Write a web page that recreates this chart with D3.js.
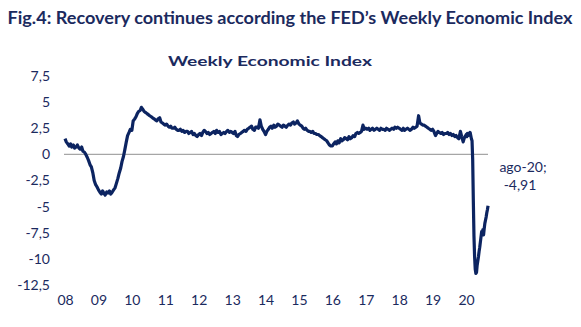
<!DOCTYPE html>
<html>
<head>
<meta charset="utf-8">
<script src="https://cdn.jsdelivr.net/npm/d3@7"></script>
<style>
    body { margin: 0; background: #ffffff; }
    svg text { font-family: "Lato", "Open Sans", sans-serif; }
</style>
</head>
<body>
<svg></svg>
<script>
let width = 581;
let height = 327;
let navy = "#1b2a5e";
let lineColor = "#0c2461";

// semi-monthly values (1st and 15th) 2008-2019, 24 per year
let wei2008 = [1.5, 1.2, 1.0, 0.8, 1.0, 0.7, 0.9, 0.6, 0.7, 0.9, 0.6, 0.5,
               0.7, 0.3, 0.2, 0.0, -0.3, -0.6, -1.0, -1.2, -1.8, -2.5, -2.9, -3.1];
let wei2009 = [-3.4, -3.6, -3.8, -3.5, -3.7, -3.9, -3.6, -3.7, -3.5, -3.8, -3.6, -3.4,
               -3.2, -2.8, -2.3, -1.8, -1.3, -0.7, -0.2, 0.4, 1.2, 1.8, 2.1, 2.4];
let wei2010 = [2.3, 3.2, 3.4, 3.6, 3.9, 4.1, 4.2, 4.5, 4.3, 4.1, 4.0, 3.9,
               3.8, 3.7, 3.6, 3.5, 3.4, 3.3, 3.2, 3.4, 3.5, 3.1, 3.0, 2.9];
let wei2011 = [2.8, 2.9, 2.7, 2.6, 2.7, 2.5, 2.5, 2.6, 2.4, 2.3, 2.3, 2.4,
               2.2, 2.3, 2.1, 2.2, 2.2, 2.0, 2.1, 2.2, 1.9, 2.0, 1.8, 1.7];
let wei2012 = [1.9, 2.0, 1.8, 2.1, 2.3, 2.2, 2.0, 2.1, 1.9, 2.0, 2.1, 2.2,
               2.0, 2.3, 2.1, 2.2, 1.9, 2.0, 2.1, 2.0, 2.2, 2.3, 2.1, 2.2];
let wei2013 = [2.1, 2.0, 2.2, 1.8, 1.7, 1.9, 2.0, 2.1, 2.2, 2.3, 2.2, 2.4,
               2.5, 2.6, 2.7, 2.4, 2.3, 2.6, 2.6, 2.5, 3.3, 2.7, 2.4, 2.2];
let wei2014 = [1.9, 2.2, 2.4, 2.6, 2.7, 2.5, 2.8, 2.6, 2.7, 2.9, 2.8, 2.7,
               2.6, 2.8, 2.7, 2.6, 2.8, 2.9, 2.8, 3.0, 3.1, 2.9, 3.0, 3.2];
let wei2015 = [2.9, 2.8, 2.7, 2.5, 2.4, 2.5, 2.3, 2.2, 2.2, 2.1, 2.2, 2.0,
               2.0, 1.9, 1.9, 1.8, 1.7, 1.6, 1.5, 1.4, 1.3, 1.1, 0.9, 0.8];
let wei2016 = [0.8, 1.0, 1.2, 1.0, 1.3, 1.1, 1.5, 1.3, 1.4, 1.6, 1.5, 1.4,
               1.7, 1.5, 1.6, 1.8, 1.7, 2.0, 2.1, 2.0, 2.1, 2.2, 2.8, 2.4];
let wei2017 = [2.5, 2.4, 2.5, 2.3, 2.4, 2.5, 2.3, 2.4, 2.5, 2.4, 2.3, 2.5,
               2.4, 2.4, 2.3, 2.5, 2.4, 2.3, 2.4, 2.5, 2.4, 2.6, 2.5, 2.6];
let wei2018 = [2.5, 2.4, 2.3, 2.5, 2.3, 2.4, 2.5, 2.4, 2.3, 2.4, 2.6, 2.5,
               2.6, 2.7, 3.7, 3.0, 2.9, 2.8, 2.8, 2.7, 2.6, 2.5, 2.4, 2.3];
let wei2019 = [2.4, 2.2, 1.8, 2.0, 2.2, 2.1, 2.0, 2.1, 1.9, 2.0, 2.0, 2.1,
               1.9, 2.0, 1.8, 1.9, 1.7, 1.8, 1.6, 1.5, 2.2, 1.7, 1.2, 1.6];
// weekly values 2020 (weeks ending Jan 4 ... Aug 29)
let wei2020 = [1.9, 1.7, 2.0, 1.8, 2.0, 1.9, 2.1, 1.8, 1.5, 1.3, -0.5, -4.4,
               -7.8, -9.8, -11.0, -11.4, -11.3, -10.6, -10.2, -9.8, -9.3, -8.9,
               -8.4, -7.9, -7.4, -7.5, -7.2, -7.7, -7.1, -6.6, -6.3, -6.0, -5.6, -5.3, -4.91];

let yearTicks = ["08", "09", "10", "11", "12", "13", "14", "15", "16", "17", "18", "19", "20"];
let yTicks = [-12.5, -10, -7.5, -5, -2.5, 0, 2.5, 5, 7.5];

let titleText = "Fig.4: Recovery continues according the FED’s Weekly Economic Index";
let subtitleText = "Weekly Economic Index";
let noteLines = ["ago-20;", "-4,91"];

// build the series with dates
let data = [];
let semiMonthly = [wei2008, wei2009, wei2010, wei2011, wei2012, wei2013,
                   wei2014, wei2015, wei2016, wei2017, wei2018, wei2019];
semiMonthly.forEach(function (arr, yi) {
    arr.forEach(function (v, i) {
        let month = Math.floor(i / 2);
        let day = i % 2 === 0 ? 1 : 15;
        data.push({date: new Date(2008 + yi, month, day), value: v});
    });
});
wei2020.forEach(function (v, i) {
    data.push({date: d3.timeDay.offset(new Date(2020, 0, 4), 7 * i), value: v});
});

let svg = d3.select("svg")
    .attr("width", width)
    .attr("height", height);

let scaleX = d3.scaleTime()
    .domain([new Date(2008, 0, 1), new Date(2020, 0, 1)])
    .range([65, 466]);

let scaleY = d3.scaleLinear()
    .domain([-12.5, 7.5])
    .range([285, 76]);

// titles
svg.append("text")
    .attr("x", 290)
    .attr("y", 24)
    .attr("text-anchor", "middle")
    .attr("textLength", 565)
    .attr("lengthAdjust", "spacingAndGlyphs")
    .style("font-size", "16.5px")
    .style("font-weight", "bold")
    .style("fill", navy)
    .text(titleText);

svg.append("text")
    .attr("x", 270)
    .attr("y", 66)
    .attr("text-anchor", "middle")
    .attr("textLength", 204)
    .attr("lengthAdjust", "spacingAndGlyphs")
    .style("font-size", "14px")
    .style("font-weight", "bold")
    .style("fill", navy)
    .text(subtitleText);

// y axis, labels only
let axisY = d3.axisLeft(scaleY)
    .tickValues(yTicks)
    .tickSize(0)
    .tickPadding(0)
    .tickFormat(d => String(d).replace(".", ","));

svg.append("g")
    .attr("class", "y-axis")
    .attr("transform", "translate(50, 0)")
    .call(axisY);

// x axis, labels only
let axisX = d3.axisBottom(scaleX)
    .tickValues(yearTicks.map(y => new Date(2000 + (+y), 0, 1)))
    .tickSize(0)
    .tickPadding(0)
    .tickFormat(d3.timeFormat("%y"));

svg.append("g")
    .attr("class", "x-axis")
    .attr("transform", "translate(0, 295)")
    .call(axisX);

svg.selectAll(".x-axis path, .y-axis path").remove();
svg.selectAll(".x-axis text, .y-axis text")
    .style("font-family", "Lato, sans-serif")
    .style("font-size", "14px")
    .style("fill", navy);

// zero line
svg.append("line")
    .attr("x1", 64)
    .attr("x2", 488)
    .attr("y1", scaleY(0))
    .attr("y2", scaleY(0))
    .attr("stroke", "#a6a6a6")
    .attr("stroke-width", 1.2);

// series
let line = d3.line()
    .x(d => scaleX(d.date))
    .y(d => scaleY(d.value));

svg.append("path")
    .datum(data)
    .attr("d", line)
    .attr("fill", "none")
    .attr("stroke", lineColor)
    .attr("stroke-width", 3.2)
    .attr("stroke-linejoin", "round");

// note
svg.selectAll(".note")
    .data(noteLines)
    .enter()
    .append("text")
    .attr("class", "note")
    .attr("x", (d, i) => i === 0 ? 523 : 520)
    .attr("y", (d, i) => 172 + i * 18)
    .attr("text-anchor", "middle")
    .style("font-size", "14px")
    .style("fill", navy)
    .text(d => d);
</script>
</body>
</html>
